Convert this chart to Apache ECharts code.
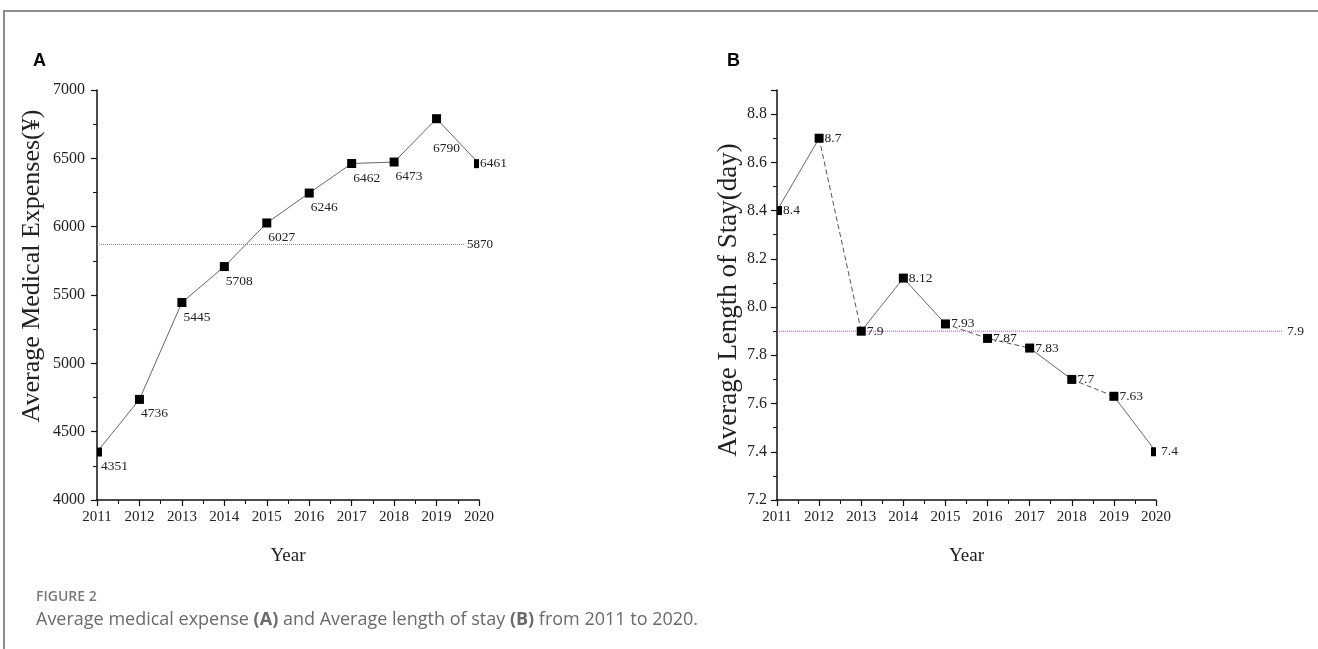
<!DOCTYPE html>
<html>
<head>
<meta charset="utf-8">
<script src="https://cdn.jsdelivr.net/npm/echarts@6/dist/echarts.min.js"></script>
<style>
  html, body { margin: 0; padding: 0; background: #fff; }
  #wrap { position: relative; width: 1318px; height: 649px; overflow: hidden; }
  #chart { position: absolute; left: 0; top: 0; width: 1318px; height: 649px; }
  #frame { position: absolute; left: 3px; top: 10px; width: 1400px; height: 700px;
           border-left: 2px solid #8c8c8c; border-top: 2px solid #8c8c8c; pointer-events: none; }
</style>
</head>
<body>
<div id="wrap"><div id="chart"></div><div id="frame"></div></div>
<script>
// ---- data ----
const years = [2011, 2012, 2013, 2014, 2015, 2016, 2017, 2018, 2019, 2020];
const expenses = [4351, 4736, 5445, 5708, 6027, 6246, 6462, 6473, 6790, 6461];
const stayDays = [8.4, 8.7, 7.9, 8.12, 7.93, 7.87, 7.83, 7.7, 7.63, 7.4];
const meanExpense = 5870;
const meanStay = 7.9;
const yTicksA = [4000, 4500, 5000, 5500, 6000, 6500, 7000];
const yTicksB = [7.2, 7.4, 7.6, 7.8, 8.0, 8.2, 8.4, 8.6, 8.8];

// ---- presentation ----
const segStyleB = ['solid', 'dashed', 'solid', 'solid', 'dashed', 'dashed', 'solid', 'dashed', 'solid'];
const serif = '"Liberation Serif", "DejaVu Serif", serif';
const sans = '"Open Sans", "Noto Sans", sans-serif';
const chart = echarts.init(document.getElementById('chart'));

const labelA = { show: true, position: 'bottom', distance: 3, offset: [15, 0],
  formatter: p => p.value[1], fontFamily: serif, fontSize: 13.5, color: '#222' };
const labelAOverride = { 8: { offset: [10, 15] }, 9: { position: 'right', distance: 1, offset: [0, 0] } };
const labelB = { show: true, position: 'right', distance: 1,
  formatter: p => p.value[1], fontFamily: serif, fontSize: 13.5, color: '#222' };
const labelBOverride = { 9: { distance: 5 } };

function edgeStyle(i, n) {
  if (i === 0) return { symbolSize: [5, 9], symbolOffset: [2.5, 0] };
  if (i === n - 1) return { symbolSize: [5, 9], symbolOffset: [-2.5, 0] };
  return {};
}
const dataA = years.map((y, i) => Object.assign({ value: [y, expenses[i]],
  label: Object.assign({}, labelA, labelAOverride[i] || {}) }, edgeStyle(i, years.length)));
const dataB = years.map((y, i) => Object.assign({ value: [y, stayDays[i]],
  label: Object.assign({}, labelB, labelBOverride[i] || {}) }, edgeStyle(i, years.length)));

// split B's polyline into solid / dashed runs (breaks marked with '-')
function segRuns(type) {
  const out = []; let last = -1;
  for (let i = 0; i < segStyleB.length; i++) {
    if (segStyleB[i] !== type) continue;
    if (last !== i) { if (out.length) out.push(['-', '-']); out.push([years[i], stayDays[i]]); }
    out.push([years[i + 1], stayDays[i + 1]]); last = i + 1;
  }
  return out;
}

const axisCommon = {
  axisLine: { show: true, lineStyle: { color: '#111', width: 1.5 } },
  axisTick: { show: true, length: 6, lineStyle: { color: '#111', width: 1.2 } },
  minorTick: { show: true, splitNumber: 2, length: 4, lineStyle: { color: '#111', width: 1 } },
  splitLine: { show: false },
  axisLabel: { fontFamily: serif, fontSize: 16, color: '#222' },
  nameTextStyle: { fontFamily: serif, fontSize: 26, color: '#222' }
};

function xYearAxis(gridIndex) {
  return Object.assign({}, axisCommon, {
    type: 'value', gridIndex, min: years[0], max: years[years.length - 1], interval: 1,
    name: 'Year', nameLocation: 'middle', nameGap: 47,
    nameTextStyle: Object.assign({}, axisCommon.nameTextStyle, { fontSize: 19 }),
    axisLabel: Object.assign({}, axisCommon.axisLabel, { fontSize: 15, margin: 10, formatter: v => String(v) })
  });
}
const hiddenX = gi => ({ type: 'value', gridIndex: gi, min: 0, max: 1, show: false });

chart.setOption({
  animation: false,
  backgroundColor: '#fff',
  title: [
    { text: 'A', left: 28, top: 47, textStyle: { fontFamily: '"Liberation Sans", Arial, sans-serif', fontSize: 18, fontWeight: 'bold', color: '#000' } },
    { text: 'B', left: 722, top: 47, textStyle: { fontFamily: '"Liberation Sans", Arial, sans-serif', fontSize: 18, fontWeight: 'bold', color: '#000' } },
    { text: 'FIGURE 2', left: 31, top: 585, textStyle: { fontFamily: sans, fontSize: 14, fontWeight: 600, color: '#7a7a7a' } },
    { text: 'Average medical expense {b|(A)} and Average length of stay {b|(B)} from 2011 to 2020.',
      left: 31, top: 606,
      textStyle: { fontFamily: sans, fontSize: 18, fontWeight: 'normal', color: '#6a6a6a',
        rich: { b: { fontFamily: sans, fontSize: 18, fontWeight: 'bold', color: '#6a6a6a' } } } }
  ],
  grid: [
    { left: 97, width: 382, top: 90, height: 410 },
    { left: 777, width: 379, top: 90, height: 410 },
    { left: 97, width: 368, top: 90, height: 410 },
    { left: 777, width: 506, top: 90, height: 410 }
  ],
  xAxis: [xYearAxis(0), xYearAxis(1), hiddenX(2), hiddenX(3)],
  yAxis: [
    Object.assign({}, axisCommon, {
      type: 'value', gridIndex: 0, min: yTicksA[0], max: yTicksA[yTicksA.length - 1], interval: 500,
      name: 'Average Medical Expenses(¥)', nameLocation: 'middle', nameGap: 52,
      nameTextStyle: Object.assign({}, axisCommon.nameTextStyle, { padding: [0, 0, 0, 58] }),
      axisLabel: Object.assign({}, axisCommon.axisLabel, { margin: 12, formatter: v => String(v) })
    }),
    Object.assign({}, axisCommon, {
      type: 'value', gridIndex: 1, min: yTicksB[0], max: 8.9, interval: 0.2,
      name: 'Average Length of Stay(day)', nameLocation: 'middle', nameGap: 35,
      nameTextStyle: Object.assign({}, axisCommon.nameTextStyle, { fontSize: 27, padding: [0, 10, 0, 0] }),
      axisLabel: Object.assign({}, axisCommon.axisLabel, { margin: 10, showMaxLabel: false, formatter: v => v.toFixed(1) })
    }),
    { type: 'value', gridIndex: 2, min: yTicksA[0], max: yTicksA[yTicksA.length - 1], show: false },
    { type: 'value', gridIndex: 3, min: yTicksB[0], max: 8.9, show: false }
  ],
  series: [
    { type: 'line', xAxisIndex: 2, yAxisIndex: 2, data: [[0, meanExpense], [1, meanExpense]],
      symbol: 'none', silent: true, z: 1,
      lineStyle: { type: 'dotted', color: '#8a8a8a', width: 1 },
      endLabel: { show: true, formatter: String(meanExpense), distance: 2, fontFamily: serif, fontSize: 13, color: '#222' } },
    { type: 'line', xAxisIndex: 3, yAxisIndex: 3, data: [[0, meanStay], [1, meanStay]],
      symbol: 'none', silent: true, z: 1,
      lineStyle: { type: 'dotted', color: '#b84fb8', width: 1 },
      endLabel: { show: true, formatter: String(meanStay), distance: 4, fontFamily: serif, fontSize: 13.5, color: '#222' } },
    { type: 'line', xAxisIndex: 0, yAxisIndex: 0, data: dataA, symbol: 'rect', symbolSize: 9,
      itemStyle: { color: '#000' }, lineStyle: { color: '#666', width: 1 }, z: 3 },
    { type: 'line', xAxisIndex: 1, yAxisIndex: 1, data: segRuns('solid'), symbol: 'none', silent: true,
      connectNulls: false, lineStyle: { color: '#666', width: 1, type: 'solid' }, z: 2 },
    { type: 'line', xAxisIndex: 1, yAxisIndex: 1, data: segRuns('dashed'), symbol: 'none', silent: true,
      connectNulls: false, lineStyle: { color: '#555', width: 1, type: [5, 3] }, z: 2 },
    { type: 'line', xAxisIndex: 1, yAxisIndex: 1, data: dataB, symbol: 'rect', symbolSize: 9,
      itemStyle: { color: '#000' }, lineStyle: { width: 0, opacity: 0 }, z: 3 }
  ]
});
</script>
</body>
</html>
